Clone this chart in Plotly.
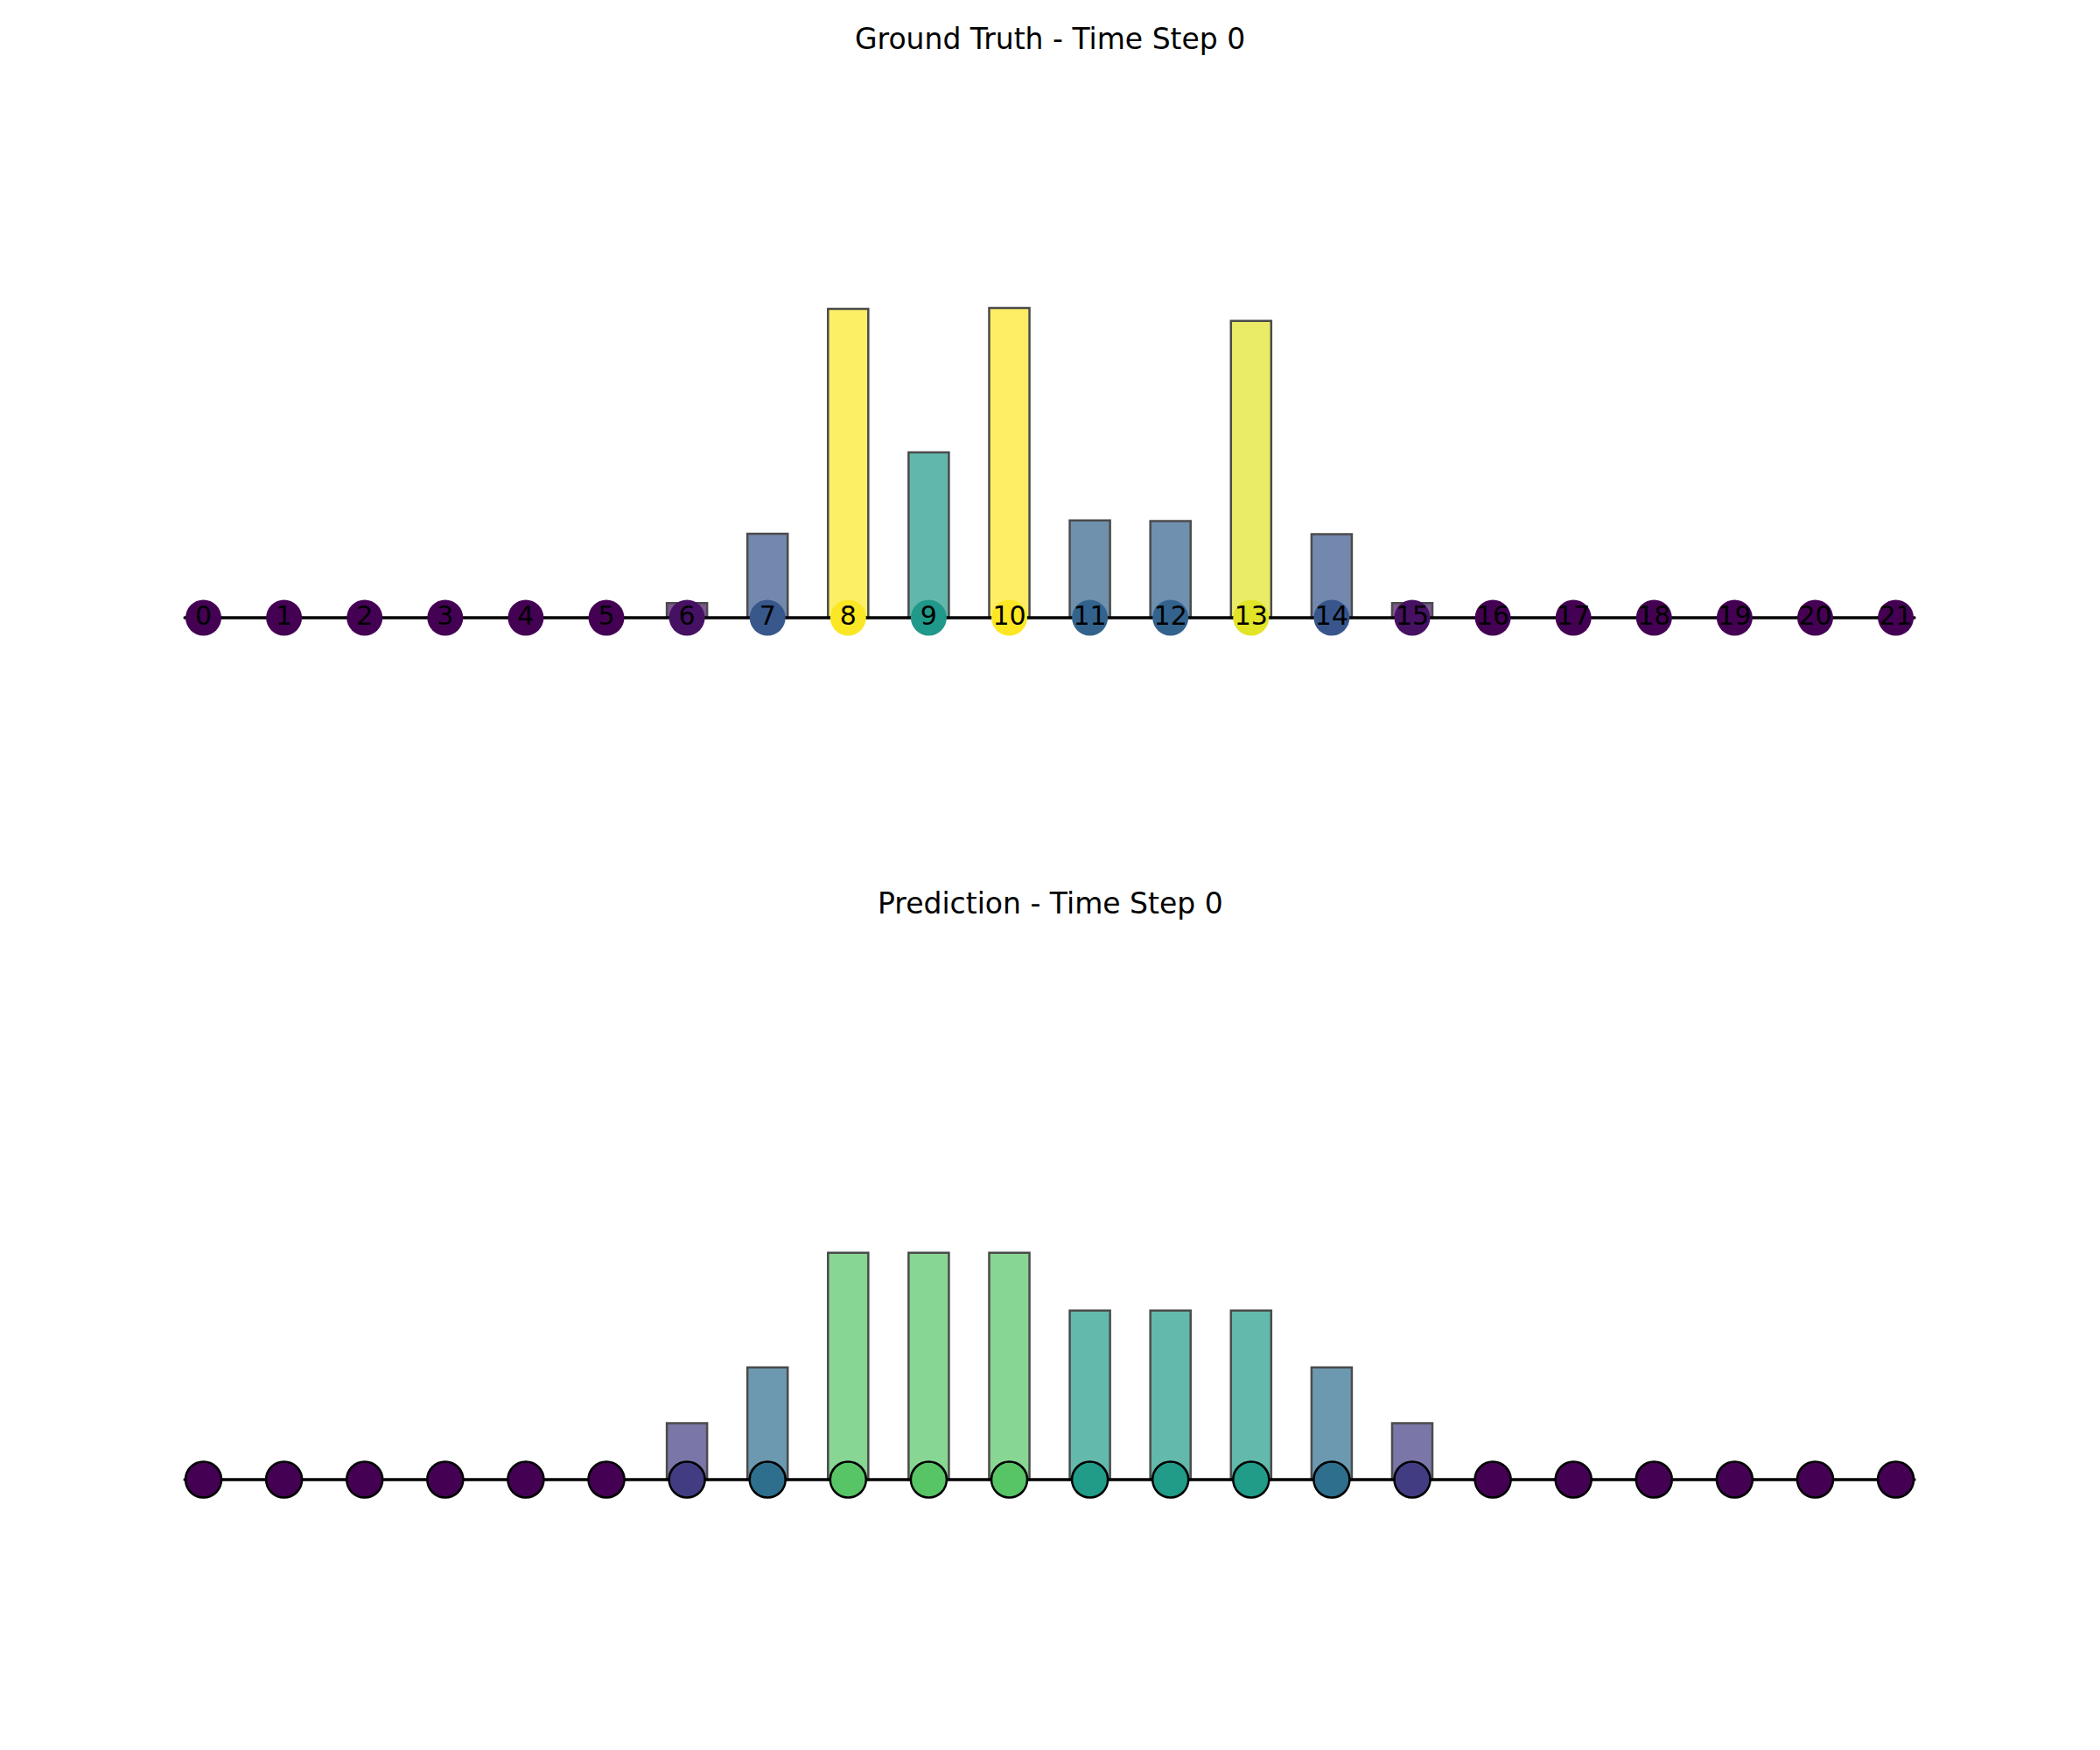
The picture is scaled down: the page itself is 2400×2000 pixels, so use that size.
import plotly.graph_objects as go
from plotly.colors import sample_colorscale

# ---- data ----
nodes = list(range(22))
node_labels = [str(i) for i in nodes]
ground_truth = [0, 0, 0, 0, 0, 0, 0.047, 0.271, 0.997, 0.534, 1.0, 0.314,
                0.312, 0.958, 0.270, 0.047, 0, 0, 0, 0, 0, 0]
prediction = [0, 0, 0, 0, 0, 0, 0.182, 0.362, 0.732, 0.732, 0.732, 0.546,
              0.546, 0.546, 0.362, 0.182, 0, 0, 0, 0, 0, 0]
titles = ["Ground Truth - Time Step 0", "Prediction - Time Step 0"]

vmin = 0.0
vmax = max(ground_truth)


def colors_for(vals):
    return sample_colorscale("Viridis", [(v - vmin) / (vmax - vmin) for v in vals])


W, H = 2400, 2000
FONT = "DejaVu Sans"

fig = go.Figure()

panels = [
    dict(vals=ground_truth, xa="x", ya="y", labels=True, edge=0),
    dict(vals=prediction, xa="x2", ya="y2", labels=False, edge=2.5),
]

for p in panels:
    cols = colors_for(p["vals"])
    # bars
    fig.add_trace(go.Bar(
        x=nodes, y=p["vals"], width=0.5, base=0,
        marker=dict(color=cols, line=dict(color="black", width=2.5)),
        opacity=0.7, xaxis=p["xa"], yaxis=p["ya"], showlegend=False,
        hoverinfo="skip",
    ))
    # edges of the path graph
    fig.add_trace(go.Scatter(
        x=[nodes[0] - 0.24, nodes[-1] + 0.24], y=[0, 0], mode="lines",
        line=dict(color="black", width=3.5), xaxis=p["xa"], yaxis=p["ya"],
        showlegend=False, hoverinfo="skip",
    ))
    # nodes
    fig.add_trace(go.Scatter(
        x=nodes, y=[0] * len(nodes),
        mode="markers+text" if p["labels"] else "markers",
        text=node_labels if p["labels"] else None,
        textposition="middle center",
        textfont=dict(family=FONT, size=30, color="black"),
        marker=dict(size=41, color=cols,
                    line=dict(color="black", width=p["edge"])),
        xaxis=p["xa"], yaxis=p["ya"], showlegend=False, hoverinfo="skip",
    ))

# axis geometry (pixel-derived)
px_per_unit_x = 92.1
x0_px = 232.5
xr = [-x0_px / px_per_unit_x, (W - x0_px) / px_per_unit_x]
ppu = 354.0


def yaxis_cfg(top_px, bot_px, base_px):
    return dict(
        domain=[1 - bot_px / H, 1 - top_px / H],
        range=[-(bot_px - base_px) / ppu, (base_px - top_px) / ppu],
        visible=False, fixedrange=True,
    )


hidden_x = dict(range=xr, domain=[0, 1], visible=False, fixedrange=True)

fig.update_layout(
    width=W, height=H,
    margin=dict(l=0, r=0, t=0, b=0),
    paper_bgcolor="white", plot_bgcolor="white",
    barmode="overlay",
    xaxis=dict(hidden_x, anchor="y"),
    xaxis2=dict(hidden_x, anchor="y2"),
    yaxis=yaxis_cfg(73, 973, 706),
    yaxis2=dict(yaxis_cfg(1059, 1959, 1691), anchor="x2"),
    annotations=[
        dict(text=titles[0], x=0.5, y=1 - 44 / H, xref="paper", yref="paper",
             xanchor="center", yanchor="middle", showarrow=False,
             font=dict(family=FONT, size=33, color="black")),
        dict(text=titles[1], x=0.5, y=1 - 1032 / H, xref="paper", yref="paper",
             xanchor="center", yanchor="middle", showarrow=False,
             font=dict(family=FONT, size=33, color="black")),
    ],
)

fig.write_html("out.html")
